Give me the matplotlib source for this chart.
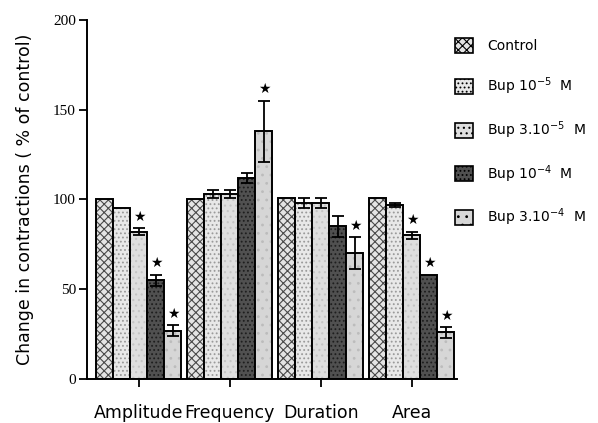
import numpy as np
import matplotlib.pyplot as plt
from matplotlib.patches import Patch

# data
categories = ['Amplitude', 'Frequency', 'Duration', 'Area']
series = ['Control', 'Bup 10$^{-5}$  M', 'Bup 3.10$^{-5}$  M', 'Bup 10$^{-4}$  M', 'Bup 3.10$^{-4}$  M']
values = [
    [100, 100, 101, 101],   # Control
    [95, 103, 98, 97],      # Bup 1e-5
    [82, 103, 98, 80],      # Bup 3e-5
    [55, 112, 85, 58],      # Bup 1e-4
    [27, 138, 70, 26],      # Bup 3e-4
]
errors = [
    [0, 0, 0, 0],
    [0, 2, 3, 1],
    [2, 2, 3, 2],
    [3, 3, 6, 0],
    [3, 17, 9, 3],
]
significant = [
    [False, False, False, False],
    [False, False, False, False],
    [True, False, False, True],
    [True, False, False, True],
    [True, True, True, True],
]

# pattern style per series: face, hatch, hatch colour
styles = [
    ('#e4e4e4', 'xxxx', '#4a4a4a'),
    ('#e8e8e8', '....', '#9a9a9a'),
    ('#dedede', '...', '#c4c4c4'),
    ('#505050', '....', '#1e1e1e'),
    ('#d6d6d6', '..', '#bcbcbc'),
]

plt.rcParams['hatch.linewidth'] = 0.8

fig = plt.figure(figsize=(5.98, 4.23), dpi=100)
ax = fig.add_axes([0.1455, 0.104, 0.6185, 0.849])

x = np.arange(len(categories))
w = 0.187
for i in range(len(series)):
    xs = x + (i - 2) * w
    face, hatch, hcol = styles[i]
    ax.bar(xs, values[i], w, color=face, hatch=hatch, edgecolor=hcol, linewidth=0)
    ax.bar(xs, values[i], w, fill=False, edgecolor='black', linewidth=1.4)
    errs = np.array(errors[i])
    has_err = errs > 0
    ax.errorbar(xs[has_err], np.array(values[i])[has_err], yerr=errs[has_err], fmt='none',
                ecolor='black', elinewidth=1.3, capsize=4, capthick=1.3)
    for j in range(len(categories)):
        if significant[i][j]:
            ax.text(xs[j], values[i][j] + errors[i][j] + 2.5, '\u2605', ha='center', va='bottom',
                    fontsize=10, color='black')

ax.set_xlim(-0.571, 3.495)
ax.set_ylim(0, 200)
ax.set_yticks([0, 50, 100, 150, 200])
ax.set_yticklabels(['0', '50', '100', '150', '200'], family='Liberation Serif', fontsize=11)
ax.set_xticks(x)
ax.set_xticklabels(categories, fontsize=12.5)
ax.tick_params(axis='x', length=6, width=1.3, pad=12)
ax.tick_params(axis='y', length=6, width=1.3, pad=2)
for s in ['top', 'right']:
    ax.spines[s].set_visible(False)
for s in ['left', 'bottom']:
    ax.spines[s].set_linewidth(1.4)
ax.set_ylabel('Change in contractions ( % of control)', fontsize=12.5, labelpad=14)

handles = []
for i in range(len(series)):
    handles.append(Patch(facecolor=styles[i][0], hatch=styles[i][1], edgecolor='black', linewidth=1.2))
fig.legend(handles, series, loc='upper left', bbox_to_anchor=(0.74, 0.94), frameon=False,
           handlelength=1.3, handleheight=1.3, labelspacing=1.6, handletextpad=1.0, fontsize=10)

plt.savefig('out.png', dpi=100)
